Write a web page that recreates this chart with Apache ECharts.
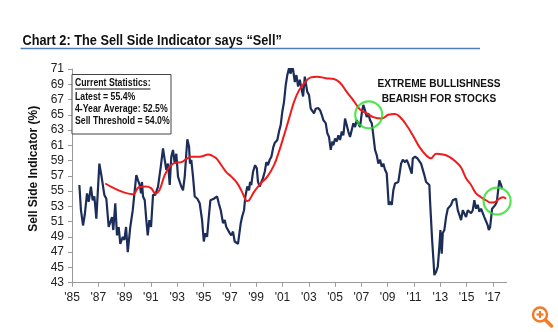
<!DOCTYPE html>
<html>
<head>
<meta charset="utf-8">
<script src="https://cdn.jsdelivr.net/npm/echarts@6/dist/echarts.min.js"></script>
<style>
  html, body { margin: 0; padding: 0; background: #fff; }
  #chart { width: 558px; height: 332px; }
</style>
</head>
<body>
<div id="chart"></div>
<script>
// Sell Side Indicator (% allocation to equities), decimal-year dates
const ssiDates = [
  1985.56,1985.68,1985.84,1985.97,1986.14,1986.27,1986.44,1986.57,1986.70,1986.85,
  1986.98,1987.08,1987.23,1987.36,1987.46,1987.61,1987.79,1987.91,1988.04,1988.14,
  1988.29,1988.42,1988.55,1988.67,1988.86,1988.98,1989.11,1989.24,1989.43,1989.62,
  1989.77,1989.89,1990.02,1990.15,1990.25,1990.32,1990.40,1990.53,1990.65,1990.76,
  1990.88,1991.01,1991.16,1991.33,1991.54,1991.75,1991.92,1992.05,1992.17,1992.30,
  1992.43,1992.55,1992.68,1992.81,1992.93,1993.06,1993.19,1993.31,1993.44,1993.57,
  1993.69,1993.77,1993.90,1993.97,1994.07,1994.20,1994.33,1994.53,1994.71,1994.89,
  1995.02,1995.14,1995.27,1995.40,1995.52,1995.65,1995.78,1995.90,1996.03,1996.16,
  1996.31,1996.48,1996.61,1996.73,1996.86,1996.99,1997.11,1997.24,1997.37,1997.62,
  1997.75,1997.83,1997.93,1998.08,1998.18,1998.33,1998.46,1998.54,1998.63,1998.76,
  1998.92,1999.05,1999.14,1999.27,1999.40,1999.52,1999.65,1999.78,1999.90,2000.03,
  2000.16,2000.31,2000.41,2000.54,2000.61,2000.74,2000.87,2000.99,2001.12,2001.25,
  2001.37,2001.50,2001.63,2001.71,2001.81,2001.94,2002.06,2002.19,2002.32,2002.44,
  2002.57,2002.70,2002.80,2002.89,2003.02,2003.15,2003.27,2003.40,2003.53,2003.71,
  2003.86,2003.99,2004.11,2004.29,2004.41,2004.54,2004.67,2004.80,2004.87,2005.00,
  2005.13,2005.25,2005.38,2005.51,2005.63,2005.76,2005.89,2006.01,2006.14,2006.27,
  2006.39,2006.52,2006.65,2006.77,2006.90,2007.03,2007.15,2007.28,2007.41,2007.53,
  2007.66,2007.79,2007.91,2008.04,2008.17,2008.29,2008.42,2008.55,2008.67,2008.80,
  2008.93,2009.01,2009.08,2009.18,2009.31,2009.43,2009.56,2009.69,2009.81,2009.94,
  2010.02,2010.15,2010.32,2010.45,2010.57,2010.70,2010.83,2010.91,2011.08,2011.26,
  2011.41,2011.54,2011.67,2011.79,2011.92,2012.05,2012.17,2012.22,2012.30,2012.38,
  2012.48,2012.55,2012.68,2012.81,2012.93,2013.01,2013.11,2013.19,2013.31,2013.44,
  2013.57,2013.69,2013.82,2013.95,2014.07,2014.20,2014.33,2014.45,2014.58,2014.71,
  2014.83,2014.96,2015.09,2015.21,2015.34,2015.47,2015.59,2015.72,2015.85,2015.97,
  2016.10,2016.23,2016.35,2016.48,2016.61,2016.69,2016.79,2016.86,2016.94,2017.04,
  2017.19,2017.30,2017.40,2017.49,2017.62,2017.70
];
const ssiValues = [
  55.8,52.5,50.5,51.9,54.7,53.6,55.6,53.8,54.3,51.4,
  51.4,58.6,57.1,56.9,54.5,54.0,50.3,50.1,51.6,49.9,
  53.4,49.2,50.3,48.1,49.0,48.6,50.3,47.0,50.3,52.5,
  55.1,57.1,56.4,55.8,54.7,56.2,54.3,53.8,51.2,49.2,
  51.2,50.3,54.5,54.5,55.6,58.2,60.6,59.1,57.8,58.6,
  55.8,59.5,60.4,58.6,59.9,56.9,56.2,55.6,55.1,56.9,
  59.9,61.8,60.8,58.6,59.1,56.9,54.3,54.0,53.4,51.2,
  48.4,49.5,49.0,51.6,53.8,53.6,54.0,53.8,54.3,53.4,
  52.5,50.8,51.2,50.3,50.5,49.5,49.2,49.7,48.4,48.1,
  48.0,50.8,51.6,52.5,54.3,55.6,55.1,56.2,55.8,57.5,
  58.4,58.0,56.2,55.6,56.2,56.7,57.5,58.8,58.4,59.1,
  59.5,60.8,61.3,61.3,61.7,62.8,63.7,65.4,66.7,68.9,
  70.2,71.1,70.4,71.5,70.9,69.3,70.2,68.7,69.6,68.5,
  67.4,70.0,68.9,68.0,67.6,65.8,65.6,65.2,65.8,65.9,
  65.6,65.0,64.3,63.9,62.6,62.1,60.4,61.5,61.0,61.9,
  61.5,62.3,61.7,62.8,62.3,64.5,64.7,62.8,62.1,62.3,
  63.9,63.4,64.3,64.1,63.4,65.2,66.3,65.6,64.7,65.2,
  64.3,63.9,62.3,60.4,59.7,58.6,59.1,58.2,58.6,57.8,
  57.3,55.1,53.2,53.6,53.2,55.1,56.0,55.8,56.2,56.4,
  58.6,59.1,58.8,59.1,58.6,58.4,57.3,59.3,59.5,59.3,
  59.1,58.6,58.8,57.1,56.2,56.2,55.8,53.8,51.2,48.6,
  46.0,44.0,44.4,45.1,47.7,49.9,46.8,49.5,49.9,51.6,
  52.7,52.9,53.2,53.8,54.0,54.0,52.5,51.9,51.2,52.5,
  52.3,51.6,52.5,52.3,52.1,52.5,53.8,52.7,53.2,52.3,
  52.7,52.5,51.6,51.4,50.5,49.9,50.3,51.4,52.7,52.9,
  53.2,53.6,55.1,56.4,55.8,55.4
];

// Long-run average line
const avgDates = [
  1987.53,1989.64,1990.07,1990.57,1991.01,1991.33,1991.64,1992.05,1992.43,1992.81,
  1993.31,1993.69,1994.07,1994.58,1994.96,1995.34,1995.59,1995.97,1996.35,1996.73,
  1997.11,1997.49,1997.87,1998.16,1998.29,1998.46,1998.84,1999.35,1999.85,2000.36,
  2000.74,2001.12,2001.50,2001.88,2002.26,2002.64,2003.15,2003.65,2004.29,2004.92,
  2005.38,2005.89,2006.39,2006.90,2007.41,2007.91,2008.55,2009.05,2009.56,2009.94,
  2010.45,2010.95,2011.41,2011.92,2012.30,2012.68,2013.19,2013.69,2014.20,2014.58,
  2014.96,2015.34,2015.72,2016.10,2016.48,2016.86,2017.19,2017.49,2017.79,2018.00
];
const avgValues = [
  56.0,54.6,55.5,55.6,55.4,54.7,55.1,57.1,58.2,58.7,
  58.8,59.2,59.5,59.5,59.6,59.8,59.7,59.3,58.4,57.5,
  56.9,56.2,55.1,54.0,53.7,53.8,54.9,56.0,56.9,58.4,
  60.2,62.3,64.5,66.7,68.2,69.1,69.9,70.0,69.8,69.7,
  69.2,68.0,66.9,65.7,65.2,64.7,64.5,65.0,65.1,64.7,
  63.6,62.2,60.8,59.7,59.3,59.9,59.8,59.5,58.8,58.1,
  56.7,55.8,54.7,54.2,53.8,53.5,53.6,54.0,54.2,54.0
];

// Highlighted "extreme bullishness" readings
const signalDates = [2007.56, 2017.32];
const signalValues = [65.0, 53.7];

// Axis ticks
const yearTicks = [1985,1987,1989,1991,1993,1995,1997,1999,2001,2003,2005,2007,2009,2011,2013,2015,2017];
const valueTicks = [43,45,47,49,51,53,55,57,59,61,63,65,67,69,71];

const statsLines = ['Latest = 55.4%', '4-Year Average: 52.5%', 'Sell Threshold = 54.0%'];

const FONT = '"Liberation Sans", Arial, sans-serif';
const zip = (xs, ys) => xs.map((x, i) => [x, ys[i]]);

// condensed text: horizontal squeeze around the anchor point
function narrowText(x, y, text, size, squeeze, align, z) {
  return {
    type: 'text', x: x, y: y, scaleX: squeeze, z: z || 1,
    style: { x: 0, y: 0, text: text, font: 'bold ' + size + 'px ' + FONT, fill: '#111',
      align: align || 'left', verticalAlign: 'middle' }
  };
}

const chart = echarts.init(document.getElementById('chart'), null, { renderer: 'canvas' });

const ORANGE = '#f47a26';
const graphics = [
  narrowText(22.5, 41, 'Chart 2: The Sell Side Indicator says \u201cSell\u201d', 15, 0.85),
  { type: 'line', shape: { x1: 20.5, y1: 48.5, x2: 480, y2: 48.5 },
    style: { stroke: '#4f7dbb', lineWidth: 1.5 } },
  { type: 'rect', z: 10, shape: { x: 72, y: 74.5, width: 99, height: 59.5 },
    style: { fill: '#fff', stroke: '#444', lineWidth: 1 } },
  narrowText(75, 83.5, 'Current Statistics:', 10.5, 0.83, 'left', 11),
  { type: 'line', z: 11, shape: { x1: 75, y1: 89, x2: 150.5, y2: 89 },
    style: { stroke: '#111', lineWidth: 1 } },
  narrowText(439, 83.5, 'EXTREME BULLISHNESS', 11.5, 0.88, 'center'),
  narrowText(439, 98.5, 'BEARISH FOR STOCKS', 11.5, 0.88, 'center'),
  // magnifier icon, bottom right
  { type: 'circle', shape: { cx: 540, cy: 314.5, r: 7 },
    style: { fill: 'none', stroke: ORANGE, lineWidth: 2.5 } },
  { type: 'line', shape: { x1: 536.5, y1: 314.5, x2: 543.5, y2: 314.5 },
    style: { stroke: ORANGE, lineWidth: 2.2 } },
  { type: 'line', shape: { x1: 540, y1: 311, x2: 540, y2: 318 },
    style: { stroke: ORANGE, lineWidth: 2.2 } },
  { type: 'line', shape: { x1: 545.5, y1: 320, x2: 551.5, y2: 326 },
    style: { stroke: ORANGE, lineWidth: 3.5, lineCap: 'round' } }
];
statsLines.forEach((t, i) => {
  graphics.push(narrowText(75, 96.7 + i * 12.3, t, 10.5, 0.83, 'left', 11));
});

chart.setOption({
  animation: false,
  backgroundColor: '#fff',
  grid: { left: 72, right: 51.3, top: 69, bottom: 49.3, containLabel: false },
  xAxis: {
    type: 'value', min: 1985, max: 2018.05,
    axisLine: { show: true, lineStyle: { color: '#9a9a9a', width: 1 } },
    axisTick: { show: true, customValues: yearTicks, length: 4, lineStyle: { color: '#9a9a9a' } },
    axisLabel: { customValues: yearTicks, formatter: v => "'" + String(v).slice(2),
      fontFamily: FONT, fontSize: 12, color: '#222', margin: 9 },
    splitLine: { show: false }
  },
  yAxis: {
    type: 'value', min: 43, max: 71,
    name: 'Sell Side Indicator (%)', nameLocation: 'middle', nameRotate: 90, nameGap: 32,
    nameTextStyle: { fontFamily: FONT, fontSize: 12, fontWeight: 'bold', color: '#111',
      padding: [0, 0, 0, 14] },
    axisLine: { show: true, lineStyle: { color: '#9a9a9a', width: 1 } },
    axisTick: { show: true, customValues: valueTicks, length: 4, lineStyle: { color: '#9a9a9a' } },
    axisLabel: { customValues: valueTicks, fontFamily: FONT, fontSize: 12, color: '#222', margin: 8 },
    splitLine: { show: false }
  },
  series: [
    { type: 'line', data: zip(ssiDates, ssiValues), showSymbol: false, z: 2,
      lineStyle: { color: '#1c2d5a', width: 2.2 } },
    { type: 'line', data: zip(avgDates, avgValues), showSymbol: false, smooth: 0.4, z: 3,
      lineStyle: { color: '#f21b1b', width: 2 } },
    { type: 'scatter', data: zip(signalDates, signalValues), symbol: 'circle', symbolSize: 27, z: 5,
      itemStyle: { color: 'rgba(0,0,0,0)', borderColor: '#2bdc2b', borderWidth: 2.2 } }
  ],
  graphic: graphics
});
</script>
</body>
</html>
